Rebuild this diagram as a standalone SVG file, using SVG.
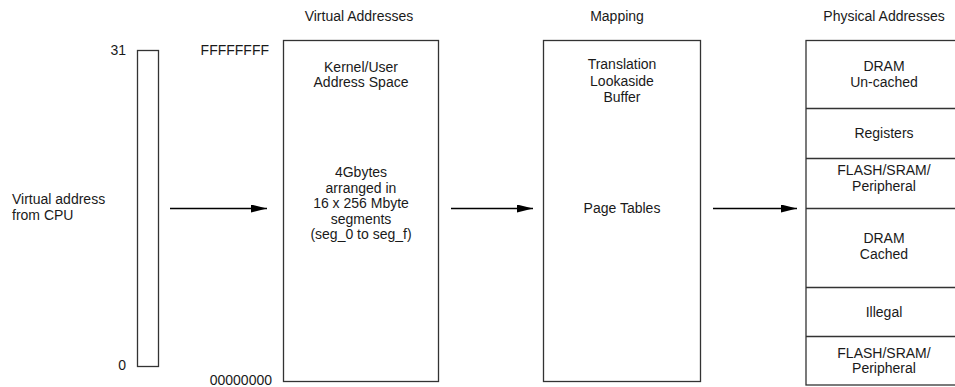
<svg xmlns="http://www.w3.org/2000/svg" width="955" height="387" viewBox="0 0 955 387">
  <style>
    text { font-family: "Liberation Sans", Arial, sans-serif; font-size: 14px; fill: #1a1a1a; }
    .c { text-anchor: middle; }
    .r { text-anchor: end; }
    .box { fill: #ffffff; stroke: #333333; stroke-width: 1.3; }
    .div { stroke: #333333; stroke-width: 1.5; }
    .conn { stroke: #000000; stroke-width: 1.5; fill: none; marker-end: url(#head); }
  </style>
  <defs>
    <marker id="head" viewBox="0 0 16 8" refX="16" refY="4" markerWidth="16" markerHeight="8" markerUnits="userSpaceOnUse" orient="auto">
      <path d="M0,0 L16,4 L0,8 Z" fill="#000000"/>
    </marker>
  </defs>
  <rect width="955" height="387" fill="#ffffff"/>

  <!-- column headings -->
  <g id="headings">
    <text class="c" x="359" y="21">Virtual Addresses</text>
    <text class="c" x="617" y="21">Mapping</text>
    <text class="c" x="884" y="21">Physical Addresses</text>
  </g>

  <!-- CPU address register -->
  <g id="cpu-address">
    <text x="12" y="204">Virtual address</text>
    <text x="12" y="220">from CPU</text>
    <rect class="box" x="137.5" y="50.5" width="21" height="316"/>
    <text class="r" x="126" y="55">31</text>
    <text class="r" x="126" y="370">0</text>
  </g>

  <!-- virtual address space -->
  <g id="virtual-space">
    <rect class="box" x="283.5" y="40.5" width="155" height="341"/>
    <text class="r" x="269" y="55">FFFFFFFF</text>
    <text class="r" x="272" y="385">00000000</text>
    <text class="c" x="361" y="72">Kernel/User</text>
    <text class="c" x="361" y="87">Address Space</text>
    <text class="c" x="361" y="177">4Gbytes</text>
    <text class="c" x="361" y="192.5">arranged in</text>
    <text class="c" x="361" y="208">16 x 256 Mbyte</text>
    <text class="c" x="361" y="223.5">segments</text>
    <text class="c" x="361" y="239">(seg_0 to seg_f)</text>
  </g>

  <!-- mapping -->
  <g id="mapping">
    <rect class="box" x="543.5" y="40.5" width="157" height="341"/>
    <text class="c" x="622" y="69">Translation</text>
    <text class="c" x="622" y="85.5">Lookaside</text>
    <text class="c" x="622" y="102">Buffer</text>
    <text class="c" x="622" y="213">Page Tables</text>
  </g>

  <!-- physical memory map -->
  <g id="physical-map">
    <rect class="box" x="806" y="40.5" width="156" height="344.5"/>
    <line class="div" x1="806" y1="108.5" x2="955" y2="108.5"/>
    <line class="div" x1="806" y1="158.5" x2="955" y2="158.5"/>
    <line class="div" x1="806" y1="208.5" x2="955" y2="208.5"/>
    <line class="div" x1="806" y1="287.5" x2="955" y2="287.5"/>
    <line class="div" x1="806" y1="336.5" x2="955" y2="336.5"/>
    <text class="c" x="884" y="71">DRAM</text>
    <text class="c" x="884" y="86.5">Un-cached</text>
    <text class="c" x="884" y="138">Registers</text>
    <text class="c" x="884" y="174.5">FLASH/SRAM/</text>
    <text class="c" x="884" y="190.5">Peripheral</text>
    <text class="c" x="884" y="243">DRAM</text>
    <text class="c" x="884" y="259">Cached</text>
    <text class="c" x="884" y="317">Illegal</text>
    <text class="c" x="884" y="358">FLASH/SRAM/</text>
    <text class="c" x="884" y="373">Peripheral</text>
  </g>

  <!-- connectors -->
  <g id="connectors">
    <line class="conn" x1="170" y1="208.5" x2="267" y2="208.5"/>
    <line class="conn" x1="451" y1="208.5" x2="533" y2="208.5"/>
    <line class="conn" x1="713" y1="208.5" x2="797" y2="208.5"/>
  </g>
</svg>
